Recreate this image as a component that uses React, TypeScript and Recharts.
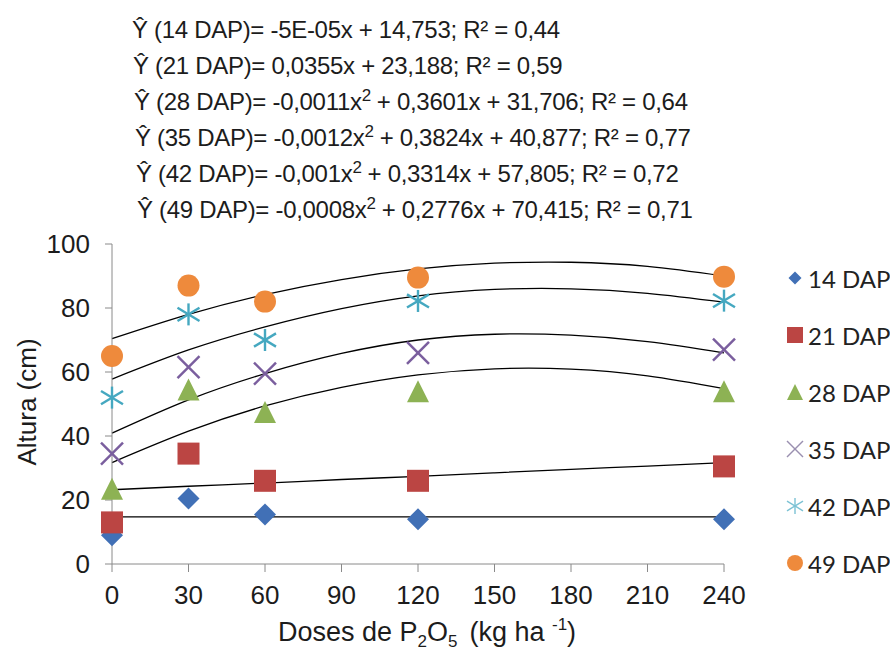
import React from 'react';
import { ComposedChart, Line, Scatter, XAxis, YAxis } from 'recharts';

// doses of P2O5 (kg/ha) where plants were measured
const doses = [0, 30, 60, 120, 240];
const xTicks = [0, 30, 60, 90, 120, 150, 180, 210, 240];
const yTicks = [0, 20, 40, 60, 80, 100];

// plant height (cm) per evaluation date
const dap14 = [9, 20.5, 15.5, 14, 14];
const dap21 = [13, 34.5, 26, 26, 30.5];
const dap28 = [23.5, 54.5, 47.5, 54, 54];
const dap35 = [34.5, 61.5, 59.5, 66, 67];
const dap42 = [52, 78, 70, 82.2, 82.3];
const dap49 = [65, 87, 82, 89.5, 89.8];

// fitted curves, read at each x tick
const trendX = [0, 30, 60, 90, 120, 150, 180, 210, 240];
const trend14 = [14.75, 14.75, 14.75, 14.75, 14.75, 14.75, 14.75, 14.75, 14.75];
const trend21 = [23.2, 24.3, 25.3, 26.4, 27.4, 28.5, 29.6, 30.6, 31.7];
const trend28 = [31.7, 41.5, 49.4, 55.2, 59.1, 61.0, 60.9, 58.8, 54.8];
const trend35 = [40.9, 51.3, 59.5, 65.8, 70.0, 71.8, 71.5, 69.5, 66.0];
const trend42 = [57.8, 66.9, 74.1, 79.8, 83.8, 85.8, 86.0, 84.6, 81.8];
const trend49 = [70.4, 78.0, 84.2, 88.9, 92.2, 94.0, 94.3, 93.0, 90.0];

const equations = [
  { lead: 'Ŷ (14 DAP)= -5E-05x + 14,753; R² = 0,44' },
  { lead: 'Ŷ (21 DAP)= 0,0355x + 23,188; R² = 0,59' },
  { lead: 'Ŷ (28 DAP)= -0,0011x', rest: '+ 0,3601x + 31,706; R² = 0,64' },
  { lead: 'Ŷ (35 DAP)= -0,0012x', rest: '+ 0,3824x + 40,877; R² = 0,77' },
  { lead: 'Ŷ (42 DAP)= -0,001x', rest: '+ 0,3314x + 57,805; R² = 0,72' },
  { lead: 'Ŷ (49 DAP)= -0,0008x', rest: '+ 0,2776x + 70,415; R² = 0,71' },
];

type Kind = 'diamond' | 'square' | 'triangle' | 'cross' | 'star' | 'circle';

const series: { name: string; values: number[]; trend: number[]; color: string; kind: Kind }[] = [
  { name: '14 DAP', values: dap14, trend: trend14, color: '#4170B6', kind: 'diamond' },
  { name: '21 DAP', values: dap21, trend: trend21, color: '#BB4543', kind: 'square' },
  { name: '28 DAP', values: dap28, trend: trend28, color: '#8DB254', kind: 'triangle' },
  { name: '35 DAP', values: dap35, trend: trend35, color: '#7A5E9E', kind: 'cross' },
  { name: '42 DAP', values: dap42, trend: trend42, color: '#45A8C0', kind: 'star' },
  { name: '49 DAP', values: dap49, trend: trend49, color: '#EE8A3C', kind: 'circle' },
];

const Marker = ({ kind, cx, cy, s, color, sw = 2.4 }: { kind: Kind; cx: number; cy: number; s: number; color: string; sw?: number }) => {
  const h = s / 2;
  switch (kind) {
    case 'diamond':
      return <polygon points={`${cx},${cy - h} ${cx + h},${cy} ${cx},${cy + h} ${cx - h},${cy}`} fill={color} />;
    case 'square':
      return <rect x={cx - h} y={cy - h} width={s} height={s} fill={color} />;
    case 'triangle':
      return <polygon points={`${cx},${cy - h} ${cx + h},${cy + h} ${cx - h},${cy + h}`} fill={color} />;
    case 'cross':
      return (
        <g stroke={color} strokeWidth={sw}>
          <line x1={cx - h} y1={cy - h} x2={cx + h} y2={cy + h} />
          <line x1={cx - h} y1={cy + h} x2={cx + h} y2={cy - h} />
        </g>
      );
    case 'star':
      return (
        <g stroke={color} strokeWidth={sw}>
          <line x1={cx} y1={cy - h} x2={cx} y2={cy + h} />
          <line x1={cx - h} y1={cy - h * 0.6} x2={cx + h} y2={cy + h * 0.6} />
          <line x1={cx - h} y1={cy + h * 0.6} x2={cx + h} y2={cy - h * 0.6} />
        </g>
      );
    default:
      return <circle cx={cx} cy={cy} r={h} fill={color} />;
  }
};

const font = '"Liberation Sans", Arial, sans-serif';

export default function App() {
  return (
    <div style={{ position: 'absolute', left: 0, top: 0, width: 890, height: 650, background: '#fff' }}>
      <svg width={890} height={240} style={{ position: 'absolute', left: 0, top: 0 }}>
        {equations.map((e, i) => (
          <text
            key={i}
            x={132 + i}
            y={38 + i * 36}
            fontFamily={font}
            fontSize={24}
            fill="#1c1c1c"
            letterSpacing={-0.3}
          >
            {e.lead}
            {e.rest && (
              <>
                <tspan dy={-9} fontSize={17}>2</tspan>
                <tspan dy={9} dx={6}>{e.rest}</tspan>
              </>
            )}
          </text>
        ))}
      </svg>

      <ComposedChart
        width={890}
        height={650}
        margin={{ top: 244, right: 166, bottom: 26, left: 0 }}
        style={{ position: 'absolute', left: 0, top: 0 }}
      >
        <XAxis
          dataKey="x"
          type="number"
          domain={[0, 240]}
          ticks={xTicks}
          height={60}
          tickSize={8}
          tickMargin={14}
          stroke="#8a8a8a"
          tick={{ fill: '#1c1c1c', fontSize: 26, fontFamily: font }}
          label={{
            content: () => (
              <text x={427} y={641} textAnchor="middle" fontFamily={font} fontSize={27} fill="#1c1c1c">
                Doses de P<tspan dy={6} fontSize={17}>2</tspan>
                <tspan dy={-6}>O</tspan>
                <tspan dy={6} fontSize={17}>5</tspan>
                <tspan dy={-6} dx={12}>{'(kg ha '}</tspan>
                <tspan dy={-11} fontSize={17}>-1</tspan>
                <tspan dy={11}>)</tspan>
              </text>
            ),
          }}
        />
        <YAxis
          dataKey="y"
          type="number"
          domain={[0, 100]}
          ticks={yTicks}
          width={112}
          tickSize={7}
          tickMargin={15}
          stroke="#8a8a8a"
          tick={{ fill: '#1c1c1c', fontSize: 26, fontFamily: font }}
          label={{
            content: () => (
              <text
                x={36}
                y={402}
                transform="rotate(-90 36 402)"
                textAnchor="middle"
                fontFamily={font}
                fontSize={26}
                fill="#1c1c1c"
              >
                Altura (cm)
              </text>
            ),
          }}
        />
        {series.map((s) => (
          <Line
            key={'t' + s.name}
            data={trendX.map((x, i) => ({ x, y: s.trend[i] }))}
            dataKey="y"
            type="natural"
            stroke="#000"
            strokeWidth={1.3}
            dot={false}
            activeDot={false}
            legendType="none"
            isAnimationActive={false}
          />
        ))}
        {series.map((s) => (
          <Scatter
            key={s.name}
            name={s.name}
            data={doses.map((x, i) => ({ x, y: s.values[i] }))}
            dataKey="y"
            isAnimationActive={false}
            shape={(p: any) => <Marker kind={s.kind} cx={p.cx} cy={p.cy} s={22} color={s.color} />}
          />
        ))}
      </ComposedChart>

      <div style={{ position: 'absolute', left: 782, top: 262 }}>
        {series.map((s, i) => (
          <div
            key={s.name}
            style={{ position: 'absolute', left: 0, top: i * 57, height: 32, display: 'flex', alignItems: 'center', whiteSpace: 'nowrap' }}
          >
            <svg width={26} height={32}>
              <Marker
                kind={s.kind}
                cx={13}
                cy={16}
                s={s.kind === 'diamond' ? 13 : 16}
                color={s.kind === 'cross' ? '#9a8fb0' : s.kind === 'star' ? '#7cc2d4' : s.color}
                sw={1.4}
              />
            </svg>
            <span style={{ fontFamily: 'Lato, "Open Sans", sans-serif', fontSize: 24, color: '#222' }}>{s.name}</span>
          </div>
        ))}
      </div>
    </div>
  );
}
